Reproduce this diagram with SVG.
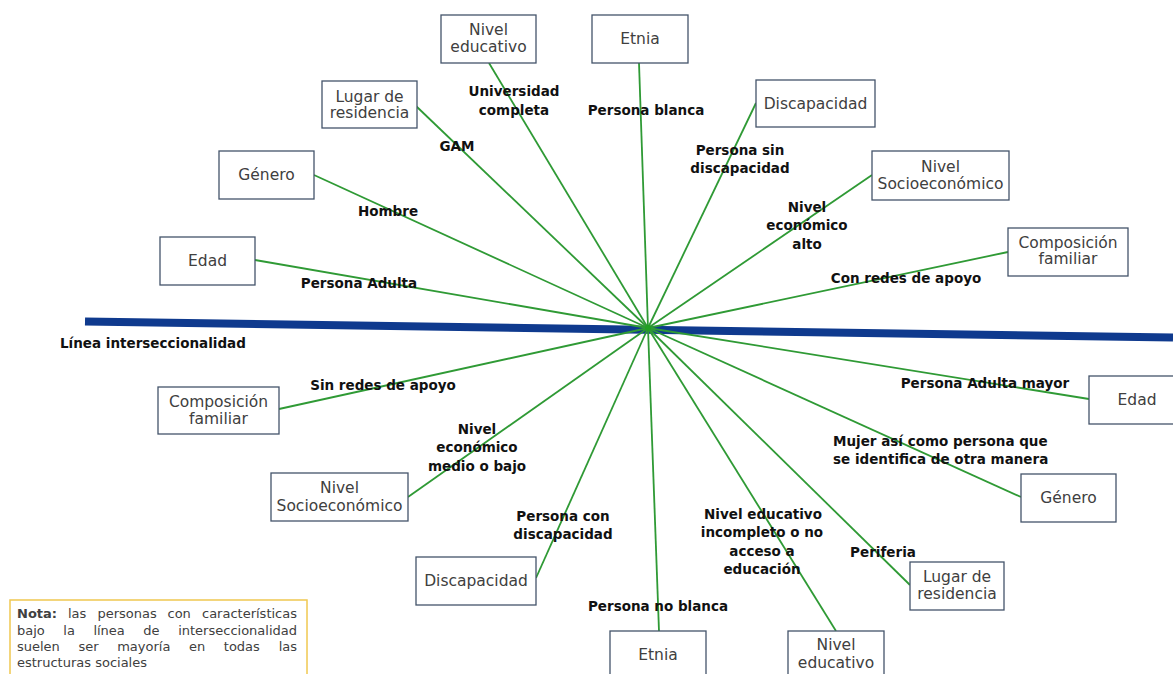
<svg xmlns="http://www.w3.org/2000/svg" width="1173" height="674" viewBox="0 0 1173 674">
<style>
.box{fill:#ffffff;stroke:#44546a;stroke-width:1.3}
.bt{font-family:"DejaVu Sans",sans-serif;font-size:15.5px;fill:#404040;text-anchor:middle}
.lb{font-family:"DejaVu Sans",sans-serif;font-size:13.5px;font-weight:bold;fill:#111111;text-anchor:middle}
.ls{text-anchor:start}
.con{stroke:#2f9a35;stroke-width:1.8;fill:none}
.nt{font-family:"DejaVu Sans",sans-serif;font-size:13px;fill:#404040}
</style>
<rect width="1173" height="674" fill="#ffffff"/>
<line x1="85" y1="321.5" x2="1173" y2="337.5" stroke="#0f3a8e" stroke-width="8"/>
<g id="connectors">
<line class="con" x1="648" y1="328" x2="489" y2="63"/>
<line class="con" x1="648" y1="328" x2="639" y2="63"/>
<line class="con" x1="648" y1="328" x2="416" y2="106"/>
<line class="con" x1="648" y1="328" x2="756" y2="103"/>
<line class="con" x1="648" y1="328" x2="314" y2="175"/>
<line class="con" x1="648" y1="328" x2="872" y2="175"/>
<line class="con" x1="648" y1="328" x2="255" y2="260"/>
<line class="con" x1="648" y1="328" x2="1008" y2="252"/>
<line class="con" x1="648" y1="328" x2="279" y2="409"/>
<line class="con" x1="648" y1="328" x2="1089" y2="399"/>
<line class="con" x1="648" y1="328" x2="408" y2="497"/>
<line class="con" x1="648" y1="328" x2="1021" y2="497"/>
<line class="con" x1="648" y1="328" x2="536" y2="578"/>
<line class="con" x1="648" y1="328" x2="910" y2="585"/>
<line class="con" x1="648" y1="328" x2="659" y2="631"/>
<line class="con" x1="648" y1="328" x2="836" y2="631"/>
<circle cx="648" cy="328" r="3" fill="#22a022"/>
</g>
<g id="n-niveledu-top"><rect class="box" x="441" y="15" width="95" height="48"/><text class="bt" x="488.5" y="35">Nivel</text><text class="bt" x="488.5" y="52">educativo</text></g>
<g id="n-etnia-top"><rect class="box" x="592" y="15" width="96" height="48"/><text class="bt" x="640" y="44">Etnia</text></g>
<g id="n-lugar-top"><rect class="box" x="322" y="81" width="95" height="47"/><text class="bt" x="369.5" y="102">Lugar de</text><text class="bt" x="369.5" y="118">residencia</text></g>
<g id="n-disc-top"><rect class="box" x="756" y="80" width="119" height="47"/><text class="bt" x="815.5" y="109">Discapacidad</text></g>
<g id="n-genero-left"><rect class="box" x="219" y="151" width="95" height="48"/><text class="bt" x="266.5" y="180">Género</text></g>
<g id="n-socio-top"><rect class="box" x="872" y="151" width="137" height="49"/><text class="bt" x="940.5" y="172">Nivel</text><text class="bt" x="940.5" y="189">Socioeconómico</text></g>
<g id="n-edad-left"><rect class="box" x="160" y="237" width="95" height="48"/><text class="bt" x="207.5" y="266">Edad</text></g>
<g id="n-comp-right"><rect class="box" x="1008" y="228" width="120" height="48"/><text class="bt" x="1068" y="248">Composición</text><text class="bt" x="1068" y="264">familiar</text></g>
<g id="n-comp-left"><rect class="box" x="158" y="387" width="121" height="47"/><text class="bt" x="218.5" y="407">Composición</text><text class="bt" x="218.5" y="424">familiar</text></g>
<g id="n-edad-right"><rect class="box" x="1089" y="376" width="96" height="48"/><text class="bt" x="1137" y="405">Edad</text></g>
<g id="n-socio-left"><rect class="box" x="271" y="473" width="137" height="48"/><text class="bt" x="339.5" y="493">Nivel</text><text class="bt" x="339.5" y="511">Socioeconómico</text></g>
<g id="n-genero-right"><rect class="box" x="1021" y="474" width="95" height="48"/><text class="bt" x="1068.5" y="503">Género</text></g>
<g id="n-disc-bottom"><rect class="box" x="416" y="557" width="120" height="48"/><text class="bt" x="476" y="586">Discapacidad</text></g>
<g id="n-lugar-bottom"><rect class="box" x="910" y="562" width="94" height="48"/><text class="bt" x="957" y="582">Lugar de</text><text class="bt" x="957" y="599">residencia</text></g>
<g id="n-etnia-bottom"><rect class="box" x="610" y="631" width="96" height="50"/><text class="bt" x="658" y="660">Etnia</text></g>
<g id="n-niveledu-bottom"><rect class="box" x="788" y="631" width="96" height="50"/><text class="bt" x="836" y="650">Nivel</text><text class="bt" x="836" y="668">educativo</text></g>
<g id="labels">
<text class="lb" x="514" y="96">Universidad</text><text class="lb" x="514" y="115">completa</text>
<text class="lb" x="646" y="115">Persona blanca</text>
<text class="lb" x="457" y="151">GAM</text>
<text class="lb" x="740" y="155">Persona sin</text><text class="lb" x="740" y="173">discapacidad</text>
<text class="lb" x="388" y="216">Hombre</text>
<text class="lb" x="807" y="212">Nivel</text><text class="lb" x="807" y="230">económico</text><text class="lb" x="807" y="249">alto</text>
<text class="lb" x="906" y="283">Con redes de apoyo</text>
<text class="lb" x="359" y="288">Persona Adulta</text>
<text class="lb ls" x="60" y="348">Línea interseccionalidad</text>
<text class="lb" x="383" y="390">Sin redes de apoyo</text>
<text class="lb" x="985" y="388">Persona Adulta mayor</text>
<text class="lb" x="477" y="434">Nivel</text><text class="lb" x="477" y="452">económico</text><text class="lb" x="477" y="471">medio o bajo</text>
<text class="lb ls" x="833" y="446">Mujer así como persona que</text><text class="lb ls" x="833" y="464">se identifica de otra manera</text>
<text class="lb" x="563" y="521">Persona con</text><text class="lb" x="563" y="539">discapacidad</text>
<text class="lb" x="763" y="519">Nivel educativo</text><text class="lb" x="762" y="537">incompleto o no</text><text class="lb" x="762" y="556">acceso a</text><text class="lb" x="762" y="574">educación</text>
<text class="lb" x="883" y="557">Periferia</text>
<text class="lb" x="658" y="611">Persona no blanca</text>
</g>
<g id="nota">
<rect x="10" y="600" width="297" height="80" fill="#ffffff" stroke="#f0c850" stroke-width="1.5"/>
<text class="nt" x="17" y="618" font-weight="bold" fill="#1a1a1a">Nota:</text>
<text class="nt" x="68" y="618">las</text>
<text class="nt" x="97.5" y="618">personas</text>
<text class="nt" x="167.5" y="618">con</text>
<text class="nt" x="297" y="618" text-anchor="end">características</text>
<text class="nt" x="17" y="635">bajo</text>
<text class="nt" x="63.3" y="635">la</text>
<text class="nt" x="93.4" y="635">línea</text>
<text class="nt" x="143.3" y="635">de</text>
<text class="nt" x="297" y="635" text-anchor="end">interseccionalidad</text>
<text class="nt" x="17" y="651">suelen</text>
<text class="nt" x="78.5" y="651">ser</text>
<text class="nt" x="117.2" y="651">mayoría</text>
<text class="nt" x="189" y="651">en</text>
<text class="nt" x="223.8" y="651">todas</text>
<text class="nt" x="297" y="651" text-anchor="end">las</text>
<text class="nt" x="17" y="667">estructuras sociales</text>
</g>
</svg>
